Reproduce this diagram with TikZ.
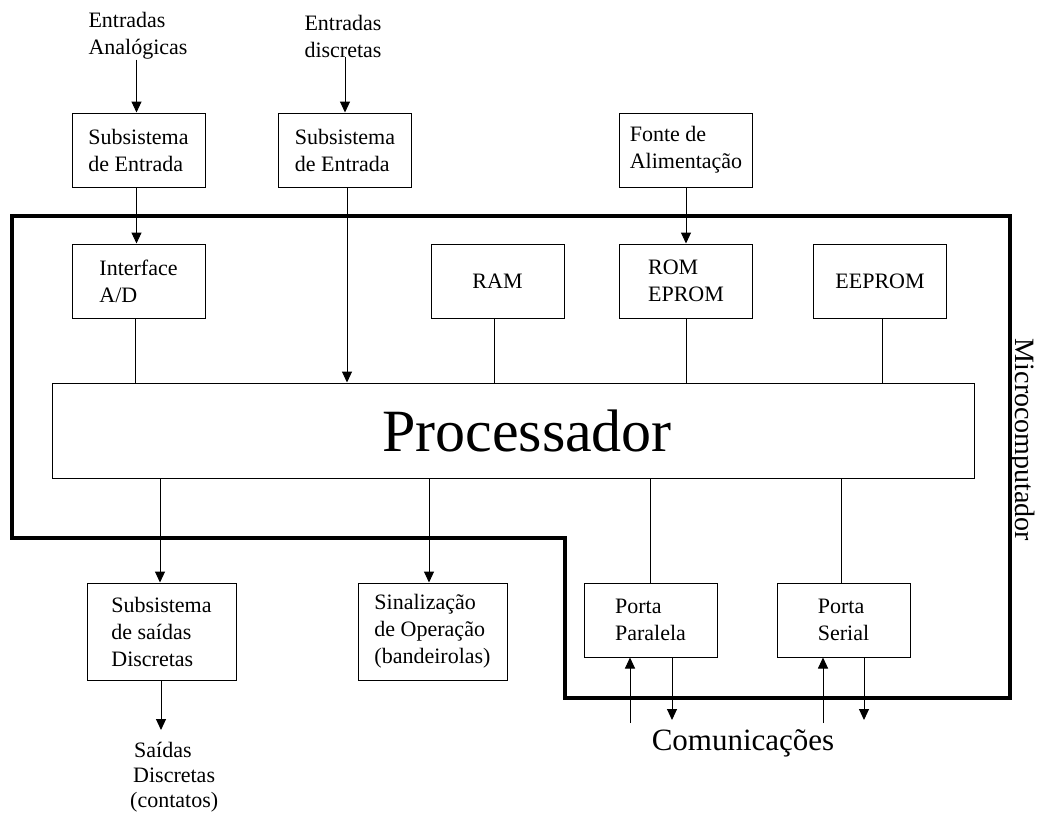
\documentclass[tikz,border=0pt]{standalone}
\usepackage{fontspec}
\setmainfont{Liberation Serif}
\usetikzlibrary{arrows.meta}
\begin{document}
\begin{tikzpicture}[x=1pt,y=-1pt,
  txt/.style={font=\fontsize{22}{27}\selectfont, align=left, inner sep=0pt},
  box/.style={txt, draw, line width=1pt, minimum width=133pt, minimum height=74pt},
  wbox/.style={box, minimum width=149pt, minimum height=97pt},
  arr/.style={line width=1pt, -{Triangle[width=10pt,length=11pt]}},
  ln/.style={line width=1pt},
  outline/.style={line width=4pt, line join=miter}]
\useasboundingbox (0,0) rectangle (1049,812);
% outline of microcomputer
\draw[outline] (12,216) -- (1010,216) -- (1010,698) -- (565,698) -- (565,538) -- (12,538) -- cycle;
% top inputs
\node[txt] (ea) at (138,36) {Entradas\\Anal\'ogicas};
\node[txt] (ed) at (343,36) {Entradas\\discretas};
\node[box] (sub1) at (138.5,150) {Subsistema\\de Entrada};
\node[box] (sub2) at (345,150) {Subsistema\\de Entrada};
\node[box] (fonte) at (686,150) {Fonte de\\Alimenta\c{c}\~ao};
% inner boxes
\node[box] (iface) at (138.5,281) {Interface\\A/D};
\node[box] (ram) at (497.5,281) {RAM};
\node[box] (rom) at (686,281) {ROM\\EPROM};
\node[box] (eeprom) at (880,281) {EEPROM};
\node[draw, line width=1pt, minimum width=922pt, minimum height=95pt, inner sep=0pt,
      font=\fontsize{60}{60}\selectfont] (proc) at (513,430.5) {\hspace*{28pt}Processador};
% bottom boxes
\node[wbox] (saidas) at (161.5,631.5) {Subsistema\\de sa\'idas\\Discretas};
\node[wbox] (sinal) at (432.5,631.5) {Sinaliza\c{c}\~ao\\de Opera\c{c}\~ao\\(bandeirolas)};
\node[box] (par) at (650.5,620) {Porta\\Paralela};
\node[box] (ser) at (843.5,620) {Porta\\Serial};
\node[txt, anchor=west, font=\fontsize{22}{25}\selectfont] (sd) at (130,777) {\hspace*{4pt}Sa\'idas\\\hspace*{3pt}Discretas\\(contatos)};
\node[inner sep=0pt, anchor=base, font=\fontsize{31}{31}\selectfont] (com) at (743,750) {Comunica\c{c}\~oes};
\node[inner sep=0pt, rotate=-90, font=\fontsize{28}{28}\selectfont] (micro) at (1022,440) {Microcomputador};
% connectors top
\draw[arr] ([xshift=-2pt]sub1.north |- ea.south) -- ([xshift=-2pt]sub1.north);
\draw[arr] (sub2.north |- ed.south) -- (sub2.north);
\draw[arr] ([xshift=-2pt]sub1.south) -- ([xshift=-2pt]iface.north);
\draw[arr] ([xshift=2pt]sub2.south) -- ([xshift=2pt]sub2.south |- proc.north);
\draw[arr] (fonte.south) -- (rom.north);
\draw[ln] ([xshift=-3pt]iface.south) -- ([xshift=-3pt]iface.south |- proc.north);
\draw[ln] ([xshift=-3pt]ram.south) -- ([xshift=-3pt]ram.south |- proc.north);
\draw[ln] (rom.south) -- (rom.south |- proc.north);
\draw[ln] ([xshift=2pt]eeprom.south) -- ([xshift=2pt]eeprom.south |- proc.north);
% connectors bottom
\draw[arr] ([xshift=-1.5pt]saidas.north |- proc.south) -- ([xshift=-1.5pt]saidas.north);
\draw[arr] ([xshift=-3.5pt]sinal.north |- proc.south) -- ([xshift=-3.5pt]sinal.north);
\draw[ln] (par.north |- proc.south) -- (par.north);
\draw[ln] ([xshift=-2.5pt]ser.north |- proc.south) -- ([xshift=-2.5pt]ser.north);
\coordinate (sdo) at (161,730);
\draw[arr] (saidas.south -| sdo) -- (sdo);
\coordinate (pin) at (630,723);
\coordinate (pout) at (672,720);
\coordinate (sin) at (823,723);
\coordinate (sout) at (864,720);
\draw[arr] (pin) -- (pin |- par.south);
\draw[arr] (pout |- par.south) -- (pout);
\draw[arr] (sin) -- (sin |- ser.south);
\draw[arr] (sout |- ser.south) -- (sout);
\end{tikzpicture}
\end{document}
